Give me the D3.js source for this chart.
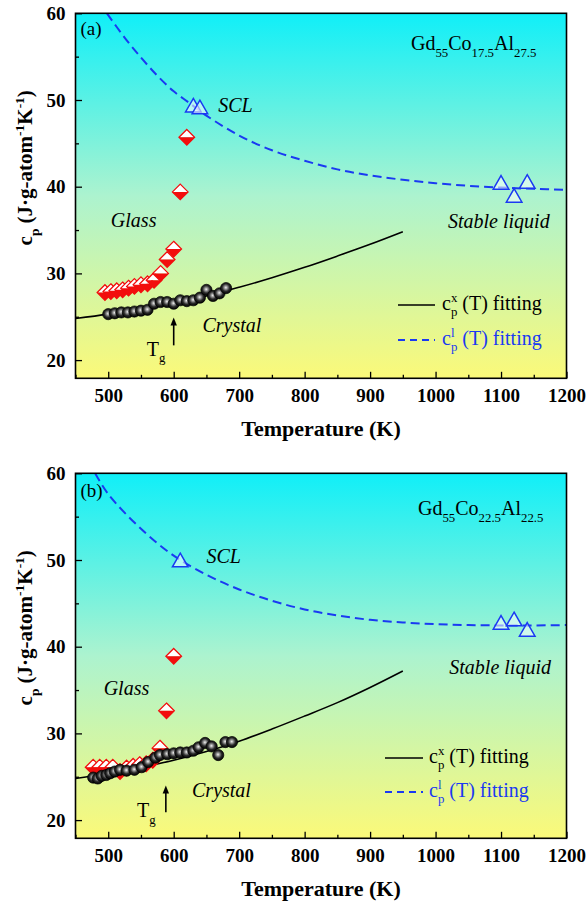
<!DOCTYPE html>
<html>
<head>
<meta charset="utf-8">
<script src="https://cdn.jsdelivr.net/npm/d3@7"></script>
<style>
  body { margin: 0; background: #fff; }
  svg { display: block; }
  text { font-family: "Liberation Serif", "Times New Roman", serif; }
</style>
</head>
<body>
<svg id="chart" width="587" height="905"></svg>
<script>
// ---- axis ticks ----
const tempTicks = [500, 600, 700, 800, 900, 1000, 1100, 1200];
const tempMinorTicks = [450, 550, 650, 750, 850, 950, 1050, 1150];
const cpTicks = [20, 30, 40, 50, 60];
const cpMinorTicks = [25, 35, 45, 55];

// ---- Gd55Co17.5Al27.5 ----
const crystalA_T  = [500, 510, 520, 530, 540, 550, 560, 570, 580, 590, 600, 610, 620, 630, 640, 650, 660, 670, 680];
const crystalA_cp = [25.3, 25.4, 25.5, 25.5, 25.6, 25.7, 25.8, 26.5, 26.7, 26.7, 26.5, 26.9, 26.8, 26.9, 27.2, 28.1, 27.4, 27.7, 28.3];
const glassA_T  = [495, 504, 513, 522, 531, 540, 550, 560, 570, 580, 590, 600, 610, 620];
const glassA_cp = [27.8, 27.9, 28.0, 28.1, 28.3, 28.5, 28.7, 28.8, 29.2, 30.0, 31.6, 32.8, 39.4, 45.7];
const liquidA_T  = [630, 640, 1100, 1120, 1140];
const liquidA_cp = [49.4, 49.2, 40.5, 39.0, 40.6];
const fitXA_T  = [450, 500, 550, 600, 650, 700, 750, 800, 850, 900, 950];
const fitXA_cp = [24.8, 25.3, 25.9, 26.6, 27.4, 28.4, 29.5, 30.7, 32.0, 33.35, 34.8];
const fitLA_T  = [498, 525, 550, 575, 600, 625, 650, 700, 750, 800, 850, 900, 950, 1000, 1050, 1100, 1150, 1200];
const fitLA_cp = [60.0, 57.2, 54.9, 52.8, 51.0, 49.6, 48.2, 45.9, 44.2, 43.0, 42.0, 41.3, 40.8, 40.4, 40.1, 39.9, 39.75, 39.65];

// ---- Gd55Co22.5Al22.5 ----
const crystalB_T  = [477, 484, 490, 497, 503, 510, 518, 528, 540, 551, 561, 572, 579, 590, 600, 610, 620, 630, 638, 648, 658, 668, 679, 689];
const crystalB_cp = [24.9, 24.8, 25.1, 25.2, 25.4, 25.6, 25.8, 25.7, 25.8, 26.1, 26.7, 27.2, 27.5, 27.6, 27.7, 27.8, 27.8, 28.0, 28.4, 28.9, 28.5, 27.5, 29.0, 29.0];
const glassB_T  = [477, 487, 497, 507, 518, 528, 538, 548, 558, 568, 579, 589, 600];
const glassB_cp = [26.1, 26.1, 26.1, 26.1, 25.6, 26.0, 26.2, 26.4, 26.5, 26.9, 28.3, 32.6, 38.9];
const liquidB_T  = [610, 1100, 1120, 1140];
const liquidB_cp = [50.0, 42.8, 43.2, 42.0];
const fitXB_T  = [450, 500, 550, 600, 650, 700, 750, 800, 850, 900, 950];
const fitXB_cp = [24.8, 25.4, 26.1, 26.9, 27.9, 29.1, 30.5, 32.0, 33.55, 35.3, 37.2];
const fitLB_T  = [480, 500, 550, 600, 650, 700, 750, 800, 850, 900, 950, 1000, 1050, 1100, 1150, 1200];
const fitLB_cp = [60.0, 57.6, 53.6, 50.5, 48.3, 46.6, 45.3, 44.3, 43.6, 43.1, 42.8, 42.6, 42.5, 42.45, 42.45, 42.5];

const zip = (t, c) => t.map((v, i) => ({ T: v, cp: c[i] }));

const svg = d3.select("#chart");
const L = 75.5, R = 566.5, PH = 365;
const BLUE = "#1a3af2";

const defs = svg.append("defs");
const bg = defs.append("linearGradient").attr("id", "bgGrad")
  .attr("x1", 0).attr("y1", 0).attr("x2", 0).attr("y2", 1);
[[0, "#10eff8"], [0.5, "#acf3cf"], [1, "#fbf979"]].forEach(([o, c]) =>
  bg.append("stop").attr("offset", o).attr("stop-color", c));
const ball = defs.append("radialGradient").attr("id", "ball")
  .attr("cx", "48%").attr("cy", "45%").attr("r", "55%");
[[0, "#f2f2f2"], [0.25, "#9a9a9a"], [0.6, "#2a2a2a"], [1, "#000"]].forEach(([o, c]) =>
  ball.append("stop").attr("offset", o).attr("stop-color", c));

// text with sub/superscript parts
function rich(parent, x, y, parts, size, opts = {}) {
  const t = parent.append("text").attr("x", x).attr("y", y)
    .style("font-size", size + "px")
    .style("font-weight", opts.bold ? "bold" : "normal")
    .style("font-style", opts.italic ? "italic" : "normal")
    .attr("fill", opts.fill || "#000")
    .attr("text-anchor", opts.anchor || "start");
  if (opts.rotate) t.attr("transform", `rotate(${opts.rotate},${x},${y})`);
  let shift = 0, prev = null;
  parts.forEach(p => {
    const sz = p.s ? size * 0.64 : size;
    const target = p.s === "sub" ? size * 0.32 : p.s === "sup" ? -size * 0.4 : 0;
    const ts = t.append("tspan").text(p.t).style("font-size", sz + "px")
      .attr("dy", target - shift);
    if (p.back && prev) ts.attr("dx", -prev.node().getComputedTextLength());
    shift = target;
    prev = ts;
  });
  return t;
}

function drawPanel(p) {
  const top = p.top;
  const x = d3.scaleLinear().domain([450, 1200]).range([L, R]);
  const y = d3.scaleLinear().domain([17.9, 60]).range([top + PH, top]);
  const g = svg.append("g");

  g.append("rect").attr("x", L).attr("y", top).attr("width", R - L).attr("height", PH)
    .attr("fill", "url(#bgGrad)");

  const clipId = "clip" + p.id;
  defs.append("clipPath").attr("id", clipId).append("rect")
    .attr("x", L).attr("y", top).attr("width", R - L).attr("height", PH);
  const plot = g.append("g").attr("clip-path", `url(#${clipId})`);

  const line = d3.line().x(d => x(d.T)).y(d => y(d.cp)).curve(d3.curveCatmullRom.alpha(0.5));
  plot.append("path").datum(zip(p.fitX_T, p.fitX_cp)).attr("d", line)
    .attr("fill", "none").attr("stroke", "#000").attr("stroke-width", 1.6);
  plot.append("path").datum(zip(p.fitL_T, p.fitL_cp)).attr("d", line)
    .attr("fill", "none").attr("stroke", BLUE).attr("stroke-width", 2)
    .attr("stroke-dasharray", "9,5");

  // glass: half-filled diamonds
  const s = 7.8;
  const dia = plot.append("g").selectAll("g").data(zip(p.glass_T, p.glass_cp)).join("g")
    .attr("transform", d => `translate(${x(d.T)},${y(d.cp)})`);
  dia.append("path").attr("d", `M0,${-s}L${s},0L${-s},0Z`).attr("fill", "#fff");
  dia.append("path").attr("d", `M${-s},0L${s},0L0,${s}Z`).attr("fill", "#f20d0d");
  dia.append("path").attr("d", `M0,${-s}L${s},0L0,${s}L${-s},0Z`)
    .attr("fill", "none").attr("stroke", "#f20d0d").attr("stroke-width", 1.3);

  // crystal: shaded spheres
  plot.append("g").selectAll("circle").data(zip(p.crystal_T, p.crystal_cp)).join("circle")
    .attr("cx", d => x(d.T)).attr("cy", d => y(d.cp)).attr("r", 5.6)
    .attr("fill", "url(#ball)").attr("stroke", "#000").attr("stroke-width", 0.7);

  // liquid: open triangles
  plot.append("g").selectAll("path").data(zip(p.liquid_T, p.liquid_cp)).join("path")
    .attr("transform", d => `translate(${x(d.T)},${y(d.cp)})`)
    .attr("d", "M0,-6.8L7.8,6.8L-7.8,6.8Z")
    .attr("fill", "rgba(255,255,255,0.55)").attr("stroke", BLUE).attr("stroke-width", 1.5);

  // axes (ticks point inward)
  const ax = g.append("g").attr("transform", `translate(0,${top + PH})`);
  ax.call(d3.axisBottom(x).tickValues(tempTicks).tickSize(-6.5).tickPadding(10).tickFormat(d3.format("d")));
  const axm = g.append("g").attr("transform", `translate(0,${top + PH})`);
  axm.call(d3.axisBottom(x).tickValues(tempMinorTicks).tickSize(-3.5).tickFormat(""));
  const ay = g.append("g").attr("transform", `translate(${L},0)`);
  ay.call(d3.axisLeft(y).tickValues(cpTicks).tickSize(-6.5).tickPadding(10));
  const aym = g.append("g").attr("transform", `translate(${L},0)`);
  aym.call(d3.axisLeft(y).tickValues(cpMinorTicks).tickSize(-3.5).tickFormat(""));
  [ax, axm, ay, aym].forEach(a => {
    a.select(".domain").remove();
    a.selectAll("line").attr("stroke", "#000").attr("stroke-width", 1.3);
    a.selectAll("text").style("font-size", "19px").style("font-weight", "bold")
      .style("font-family", '"Liberation Serif", "Times New Roman", serif').attr("fill", "#000");
  });

  g.append("rect").attr("x", L).attr("y", top).attr("width", R - L).attr("height", PH)
    .attr("fill", "none").attr("stroke", "#000").attr("stroke-width", 1.6);

  // axis titles
  g.append("text").attr("x", (L + R) / 2).attr("y", top + PH + 58)
    .attr("text-anchor", "middle").style("font-size", "22px").style("font-weight", "bold")
    .text("Temperature (K)");
  rich(g, 32, top + PH / 2 - 28, [
    { t: "c" }, { t: "p", s: "sub" }, { t: " (J\u00b7g-atom" }, { t: "-1", s: "sup" },
    { t: "K" }, { t: "-1", s: "sup" }, { t: ")" }
  ], 21, { bold: true, anchor: "middle", rotate: -90 });

  // panel letter and composition
  g.append("text").attr("x", L + 5).attr("y", top + p.letterDy)
    .style("font-size", "19px").text(p.letter);
  rich(g, p.compX, top + p.compDy, p.comp, 20);

  // phase annotations
  p.notes.forEach(n => {
    g.append("text").attr("x", x(n.T)).attr("y", y(n.cp))
      .style("font-size", "20px").style("font-style", "italic").text(n.text);
  });
  rich(g, x(p.tgLabel[0]), y(p.tgLabel[1]), [{ t: "T" }, { t: "g", s: "sub" }], 20);

  // Tg arrow
  const ax0 = x(p.tg), yb = y(p.arrow[0]), yt = y(p.arrow[1]);
  g.append("line").attr("x1", ax0).attr("x2", ax0).attr("y1", yb).attr("y2", yt + 6)
    .attr("stroke", "#000").attr("stroke-width", 1.6);
  g.append("path").attr("d", `M${ax0},${yt}L${ax0 + 3.2},${yt + 8}L${ax0 - 3.2},${yt + 8}Z`)
    .attr("fill", "#000");

  // legend
  const lg = p.legend;
  g.append("line").attr("x1", lg.x0).attr("x2", lg.x1).attr("y1", lg.y0).attr("y2", lg.y0)
    .attr("stroke", "#000").attr("stroke-width", 1.6);
  g.append("line").attr("x1", lg.x0).attr("x2", lg.x1).attr("y1", lg.y1).attr("y2", lg.y1)
    .attr("stroke", BLUE).attr("stroke-width", 2).attr("stroke-dasharray", "7,5");
  rich(g, lg.tx, lg.y0 + 5, [{ t: "c" }, { t: "x", s: "sup" }, { t: "p", s: "sub", back: true }, { t: " (T) fitting" }], 20);
  rich(g, lg.tx, lg.y1 + 5, [{ t: "c" }, { t: "l", s: "sup" }, { t: "p", s: "sub", back: true }, { t: " (T) fitting" }], 20, { fill: BLUE });
}

drawPanel({
  id: "A", top: 13.3, letter: "(a)", letterDy: 22,
  compX: 411, compDy: 37,
  comp: [{ t: "Gd" }, { t: "55", s: "sub" }, { t: "Co" }, { t: "17.5", s: "sub" }, { t: "Al" }, { t: "27.5", s: "sub" }],
  crystal_T: crystalA_T, crystal_cp: crystalA_cp,
  glass_T: glassA_T, glass_cp: glassA_cp,
  liquid_T: liquidA_T, liquid_cp: liquidA_cp,
  fitX_T: fitXA_T, fitX_cp: fitXA_cp,
  fitL_T: fitLA_T, fitL_cp: fitLA_cp,
  notes: [
    { text: "SCL", T: 668, cp: 48.6 },
    { text: "Glass", T: 504, cp: 35.3 },
    { text: "Stable liquid", T: 1019, cp: 35.2 },
    { text: "Crystal", T: 644, cp: 23.2 }
  ],
  tgLabel: [559, 20.5], tg: 600, arrow: [21.7, 24.9],
  legend: { x0: 398, x1: 435, y0: 305, y1: 340, tx: 442 }
});

drawPanel({
  id: "B", top: 473.3, letter: "(b)", letterDy: 24,
  compX: 418, compDy: 42,
  comp: [{ t: "Gd" }, { t: "55", s: "sub" }, { t: "Co" }, { t: "22.5", s: "sub" }, { t: "Al" }, { t: "22.5", s: "sub" }],
  crystal_T: crystalB_T, crystal_cp: crystalB_cp,
  glass_T: glassB_T, glass_cp: glassB_cp,
  liquid_T: liquidB_T, liquid_cp: liquidB_cp,
  fitX_T: fitXB_T, fitX_cp: fitXB_cp,
  fitL_T: fitLB_T, fitL_cp: fitLB_cp,
  notes: [
    { text: "SCL", T: 650, cp: 49.6 },
    { text: "Glass", T: 493, cp: 34.4 },
    { text: "Stable liquid", T: 1021, cp: 36.9 },
    { text: "Crystal", T: 628, cp: 22.7 }
  ],
  tgLabel: [544, 20.3], tg: 588, arrow: [20.9, 24.0],
  legend: { x0: 385, x1: 423, y0: 758, y1: 792, tx: 429 }
});
</script>
</body>
</html>
